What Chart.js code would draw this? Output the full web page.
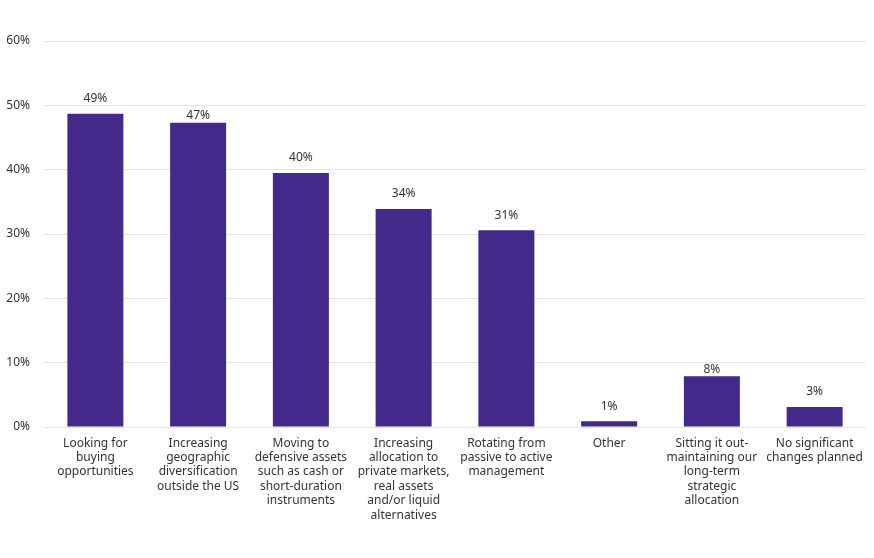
<!DOCTYPE html>
<html>
<head>
<meta charset="utf-8">
<script src="https://cdn.jsdelivr.net/npm/chart.js@4/dist/chart.umd.min.js"></script>
<style>
  html, body { margin: 0; padding: 0; background: #fff; }
  #wrap { width: 874px; height: 558px; }
</style>
</head>
<body>
<div id="wrap"><canvas id="chart"></canvas></div>
<script>
var categories = [
    ["Looking for", "buying", "opportunities"],
    ["Increasing", "geographic", "diversification", "outside the US"],
    ["Moving to", "defensive assets", "such as cash or", "short-duration", "instruments"],
    ["Increasing", "allocation to", "private markets,", "real assets", "and/or liquid", "alternatives"],
    ["Rotating from", "passive to active", "management"],
    ["Other"],
    ["Sitting it out-", "maintaining our", "long-term", "strategic", "allocation"],
    ["No significant", "changes planned"]
];
var values = [48.7, 47.3, 39.5, 33.9, 30.6, 0.9, 7.9, 3.1];
var valueLabels = ["49%", "47%", "40%", "34%", "31%", "1%", "8%", "3%"];
var yTicks = [0, 10, 20, 30, 40, 50, 60];

var barColor = '#42298a';
var textColor = '#333333';

// draws the % label above each bar, pulled down closer to the bar if it would sit on a gridline
var valueLabelPlugin = {
    id: 'valueLabels',
    afterDatasetsDraw: function (chart) {
        var ctx = chart.ctx;
        var meta = chart.getDatasetMeta(0);
        var yScale = chart.scales.y;
        var gridYs = yScale.ticks.map(function (t) { return yScale.getPixelForValue(t.value); });
        ctx.save();
        ctx.font = '12px "Noto Sans"';
        ctx.fillStyle = textColor;
        ctx.textAlign = 'center';
        ctx.textBaseline = 'middle';
        meta.data.forEach(function (bar, i) {
            var y = bar.y - 15;
            var hit = gridYs.some(function (g) { return Math.abs(g - y) < 6; });
            if (hit) y = bar.y - 7;
            ctx.fillText(valueLabels[i], bar.x, y);
        });
        ctx.restore();
    }
};

var config = {
    type: 'bar',
    data: {
        labels: categories,
        datasets: [{
            data: values,
            backgroundColor: barColor,
            barPercentage: 0.545,
            categoryPercentage: 1.0
        }]
    },
    options: {
        responsive: true,
        maintainAspectRatio: false,
        animation: false,
        layout: {
            padding: { left: 0, right: 8, top: 41, bottom: 0 }
        },
        plugins: {
            legend: { display: false },
            tooltip: { enabled: false }
        },
        scales: {
            x: {
                grid: { display: false, drawTicks: false },
                border: { display: false },
                ticks: {
                    color: textColor,
                    font: { family: 'Noto Sans', size: 12, lineHeight: 1.2 },
                    padding: 9,
                    maxRotation: 0,
                    autoSkip: false
                },
                afterFit: function (axis) { axis.height = 131; }
            },
            y: {
                min: 0,
                max: 60,
                afterBuildTicks: function (axis) {
                    axis.ticks = yTicks.map(function (v) { return { value: v }; });
                },
                grid: { color: '#e3e3e3', drawTicks: false, lineWidth: 1 },
                border: { display: false },
                ticks: {
                    color: textColor,
                    font: { family: 'Noto Sans', size: 12 },
                    padding: 14,
                    callback: function (v) { return v + '%'; }
                },
                afterFit: function (axis) { axis.width = 44; }
            }
        }
    },
    plugins: [valueLabelPlugin]
};

var chart = new Chart(document.getElementById('chart').getContext('2d'), config);
</script>
</body>
</html>
